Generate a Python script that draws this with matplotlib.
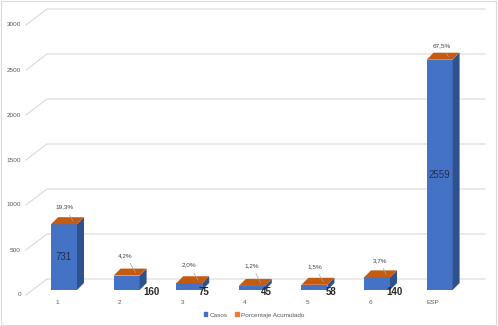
import matplotlib.pyplot as plt
from matplotlib.patches import Patch, Rectangle

plt.rcParams['font.family'] = ['Liberation Sans', 'DejaVu Sans']

# datos
categorias = ['1', '2', '3', '4', '5', '6', 'ESP']
casos = [731, 160, 75, 45, 58, 140, 2559]
porcentaje = ['19,3%', '4,2%', '2,0%', '1,2%', '1,5%', '3,7%', '67,5%']
ticks_y = [0, 500, 1000, 1500, 2000, 2500, 3000]

# estilos
azul = '#4472C4'
azul_osc = '#2F528F'
naranja = '#C55A11'
naranja_ley = '#ED7D31'
gris = '#D9D9D9'

W, H = 498, 326
fig = plt.figure(figsize=(W / 100, H / 100), dpi=100)
ax = fig.add_axes([0, 0, 1, 1])
ax.axis('off')

# escala: 62.6 px por categoria, 0.09 px por caso
px_x = 62.6
px_y = 0.09
x0, y0 = 64, 36  # centro de la 1a categoria, base (px desde abajo)
ax.set_xlim(-x0 / px_x, (W - x0) / px_x)
ax.set_ylim(-y0 / px_y, (H - y0) / px_y)
ux = 1 / px_x
uy = 1 / px_y

# lineas de cuadricula con perspectiva
for v in ticks_y:
    xs = [-38 * ux, -17 * ux, 421 * ux]
    ys = [v - 5 * uy, v + 11 * uy, v + 11 * uy]
    ax.plot(xs, ys, color=gris, lw=0.8, zorder=1)
    ax.text(-43 * ux, v - 5 * uy, str(v), ha='right', va='center',
            fontsize=4.6, color='#595959')

# barras 3D
ancho = 26 * ux
dx, dy = 7 * ux, 7 * uy
for i, v in enumerate(casos):
    l, r = i - ancho / 2, i + ancho / 2
    ax.bar(i, v, width=ancho, color=azul, zorder=3)
    ax.fill([r, r + dx, r + dx, r], [0, dy, v + dy, v], color=azul_osc, zorder=3, lw=0)
    ax.fill([l, r, r + dx, l + dx], [v, v, v + dy, v + dy], color=naranja, zorder=3, lw=0)
    ax.text(i - 7 * ux, -13 * uy, categorias[i], ha='center', va='center',
            fontsize=4.6, color='#595959')

# etiquetas de casos
dentro = [True, False, False, False, False, False, True]
desp_val = [0, 25, 15, 15, 17, 17, 0]
for i, v in enumerate(casos):
    if dentro[i]:
        ax.text(i, v / 2, str(v), ha='center', va='center', fontsize=7,
                color='#1F2F50', zorder=4)
    else:
        ax.text(i + desp_val[i] * ux, -2 * uy, str(v), ha='center', va='center',
                fontsize=7, fontweight='bold', color='#262626', zorder=4)

# etiquetas de porcentaje con lineas guia (desplazamiento en px)
desp_pct = [(1, 13), (-1, 16), (0, 14), (0, 16), (0, 14), (3, 13), (2, 10)]
for i, v in enumerate(casos):
    ox, oy = desp_pct[i]
    ax.annotate(porcentaje[i], xy=(i + 9 * ux, v + 3 * uy),
                xytext=(i + ox * ux, v + (oy + 4) * uy),
                ha='center', va='center', fontsize=4.6, color='#404040',
                arrowprops=dict(arrowstyle='-', color='#A6A6A6', lw=0.5,
                                shrinkA=2, shrinkB=0), zorder=5)

# leyenda
manejadores = [Patch(color=azul, label='Casos'),
               Patch(color=naranja_ley, label='Porcentaje Acumulado')]
fig.legend(handles=manejadores, loc='center', bbox_to_anchor=(0.51, 0.034),
           ncol=2, frameon=False, fontsize=4.6, handlelength=0.6,
           handleheight=0.6, columnspacing=1.2, handletextpad=0.3,
           labelcolor='#595959')

fig.patches.append(Rectangle((0.002, 0.003), 0.994, 0.994, transform=fig.transFigure,
                             fill=False, edgecolor=gris, lw=0.8))

fig.savefig('out.png', dpi=100)
